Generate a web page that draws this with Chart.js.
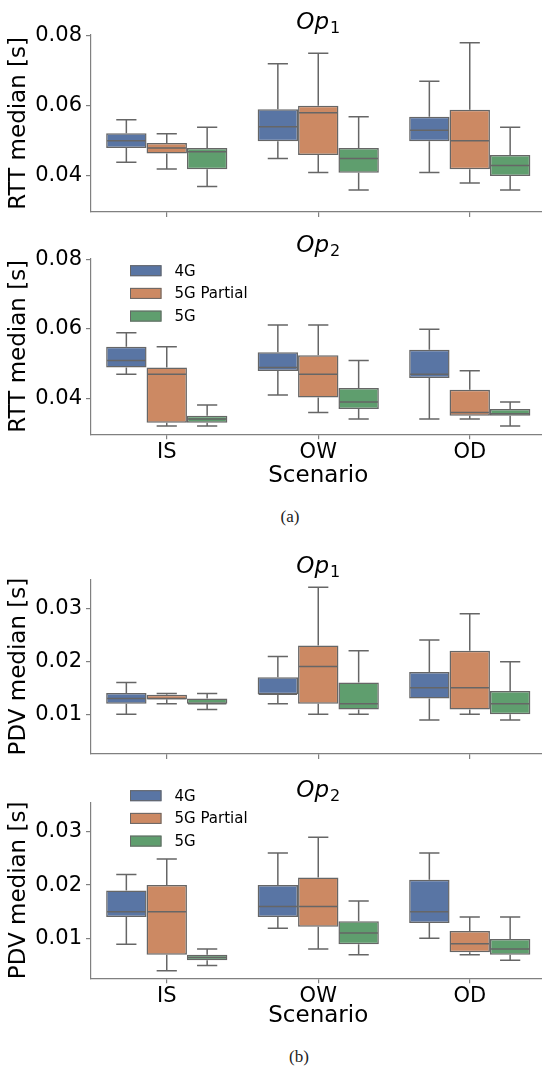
<!DOCTYPE html>
<html><head><meta charset="utf-8">
<script src="https://cdn.jsdelivr.net/npm/chart.js@4.4.1/dist/chart.umd.min.js"></script>
<style>
html,body{margin:0;padding:0;background:#fff;overflow:hidden;width:542px;height:1071px;}
canvas{position:absolute;left:0;}
.cap{position:absolute;font-family:"Liberation Serif","DejaVu Serif",serif;font-size:17px;color:#222;transform:translate(-50%,-50%);white-space:nowrap;}
</style></head><body>
<canvas id="c1" width="560" height="235" style="top:0px"></canvas>
<canvas id="c2" width="560" height="275" style="top:225px"></canvas>
<canvas id="c3" width="560" height="235" style="top:540px"></canvas>
<canvas id="c4" width="560" height="275" style="top:765px"></canvas>
<div class="cap" style="left:290px;top:517px">(a)</div>
<div class="cap" style="left:299px;top:1057px">(b)</div>
<script>
const categories = ['IS', 'OW', 'OD'];
const seriesNames = ['4G', '5G Partial', '5G'];
const seriesColors = ['#5975a4', '#cc8963', '#5f9e6e'];
const rttTicks = [0.04, 0.06, 0.08];
const pdvTicks = [0.01, 0.02, 0.03];
const opTitles = ['1', '2'];

// each entry: [lower whisker, Q1, median, Q3, upper whisker] for IS, OW, OD
const rttOp1_4G  = [[0.0439,0.0480,0.0500,0.0522,0.0560],[0.0450,0.0499,0.0540,0.0590,0.0720],[0.0410,0.0499,0.0530,0.0569,0.0670]];
const rttOp1_5GP = [[0.0420,0.0464,0.0480,0.0494,0.0520],[0.0410,0.0460,0.0580,0.0600,0.0750],[0.0380,0.0419,0.0500,0.0589,0.0780]];
const rttOp1_5G  = [[0.0370,0.0419,0.0469,0.0480,0.0539],[0.0360,0.0409,0.0450,0.0480,0.0569],[0.0360,0.0400,0.0430,0.0460,0.0539]];

const rttOp2_4G  = [[0.0470,0.0489,0.0509,0.0549,0.0589],[0.0410,0.0479,0.0489,0.0533,0.0611],[0.0341,0.0459,0.0470,0.0540,0.0599]];
const rttOp2_5GP = [[0.0321,0.0330,0.0470,0.0489,0.0549],[0.0360,0.0403,0.0470,0.0524,0.0611],[0.0341,0.0350,0.0360,0.0425,0.0480]];
const rttOp2_5G  = [[0.0321,0.0330,0.0341,0.0350,0.0381],[0.0341,0.0370,0.0390,0.0430,0.0509],[0.0321,0.0350,0.0356,0.0370,0.0390]];

const pdvOp1_4G  = [[0.0100,0.0120,0.0130,0.0140,0.0160],[0.0120,0.0138,0.0138,0.0170,0.0209],[0.0089,0.0130,0.0150,0.0180,0.0240]];
const pdvOp1_5GP = [[0.0120,0.0128,0.0130,0.0137,0.0139],[0.0100,0.0120,0.0190,0.0230,0.0340],[0.0100,0.0109,0.0150,0.0220,0.0290]];
const pdvOp1_5G  = [[0.0109,0.0120,0.0120,0.0130,0.0139],[0.0100,0.0109,0.0120,0.0160,0.0220],[0.0089,0.0100,0.0120,0.0144,0.0199]];

const pdvOp2_4G  = [[0.0089,0.0140,0.0150,0.0190,0.0220],[0.0119,0.0140,0.0160,0.0200,0.0260],[0.0100,0.0129,0.0150,0.0210,0.0260]];
const pdvOp2_5GP = [[0.0039,0.0069,0.0150,0.0200,0.0249],[0.0080,0.0122,0.0160,0.0214,0.0290],[0.0069,0.0074,0.0090,0.0114,0.0140]];
const pdvOp2_5G  = [[0.0049,0.0059,0.0064,0.0069,0.0080],[0.0069,0.0089,0.0110,0.0132,0.0170],[0.0059,0.0069,0.0080,0.0099,0.0140]];

const LINE = '#666666';
const AXC = '#808080';
const FAM = '"DejaVu Sans", sans-serif';
Chart.defaults.font.family = FAM;
Chart.defaults.color = '#000';

const boxPlugin = {
  id: 'boxWhiskers',
  afterDatasetsDraw(chart) {
    const ctx = chart.ctx, y = chart.scales.y;
    ctx.save();
    ctx.strokeStyle = LINE; ctx.lineWidth = 1.5;
    chart.data.datasets.forEach((ds, i) => {
      const meta = chart.getDatasetMeta(i);
      meta.data.forEach((bar, j) => {
        const s = ds.stats[j];
        const x = bar.x, w = bar.width;
        const pl = y.getPixelForValue(s[0]), p1 = y.getPixelForValue(s[1]);
        const pm = y.getPixelForValue(s[2]), p3 = y.getPixelForValue(s[3]);
        const ph = y.getPixelForValue(s[4]);
        ctx.beginPath();
        ctx.moveTo(x, p1); ctx.lineTo(x, pl);
        ctx.moveTo(x - w / 4, pl); ctx.lineTo(x + w / 4, pl);
        ctx.moveTo(x, p3); ctx.lineTo(x, ph);
        ctx.moveTo(x - w / 4, ph); ctx.lineTo(x + w / 4, ph);
        ctx.moveTo(x - w / 2 + 1, pm); ctx.lineTo(x + w / 2 - 1, pm);
        ctx.stroke();
      });
    });
    ctx.restore();
  }
};

const titlePlugin = {
  id: 'panelTitle',
  afterDraw(chart, args, opts) {
    const ctx = chart.ctx, a = chart.chartArea;
    ctx.save();
    ctx.fillStyle = '#000';
    const f1 = 'italic 23px ' + FAM, f2 = '16px ' + FAM;
    ctx.font = f1; const w1 = ctx.measureText(opts.main).width;
    ctx.font = f2; const w2 = ctx.measureText(opts.sub).width;
    const x0 = (a.left + a.right) / 2 - (w1 + w2 + 1) / 2, yb = a.top - 6;
    ctx.textBaseline = 'alphabetic'; ctx.textAlign = 'left';
    ctx.font = f1; ctx.fillText(opts.main, x0, yb);
    ctx.font = f2; ctx.fillText(opts.sub, x0 + w1 + 1, yb + 4);
    ctx.restore();
  }
};

const legendPlugin = {
  id: 'boxLegend',
  afterDraw(chart, args, opts) {
    if (!opts.show) return;
    const ctx = chart.ctx;
    ctx.save();
    chart.data.datasets.forEach((ds, i) => {
      const cy = opts.y + i * opts.gap;
      ctx.fillStyle = ds.backgroundColor;
      ctx.fillRect(opts.x, cy - 5.5, 31.5, 11);
      ctx.strokeStyle = LINE; ctx.lineWidth = 1;
      ctx.strokeRect(opts.x + 0.5, cy - 5, 30.5, 10);
      ctx.fillStyle = '#000';
      ctx.font = '15px ' + FAM;
      ctx.textBaseline = 'middle'; ctx.textAlign = 'left';
      ctx.fillText(ds.label, opts.x + 44.5, cy + 1);
    });
    ctx.restore();
  }
};

function makePanel(id, seriesStats, ticks, yMin, yMax, yLabel, showX, sub, padTop, xH, legend) {
  const datasets = seriesStats.map((stats, i) => ({
    label: seriesNames[i],
    data: stats.map(s => [s[1], s[3]]),
    stats: stats,
    backgroundColor: seriesColors[i],
    borderColor: LINE,
    borderWidth: 1.5,
    borderSkipped: false
  }));
  return new Chart(document.getElementById(id), {
    type: 'bar',
    data: { labels: categories, datasets },
    plugins: [boxPlugin, titlePlugin, legendPlugin],
    options: {
      responsive: false, animation: false, events: [],
      layout: { padding: { left: 0, right: 14.5, top: padTop, bottom: 0 } },
      datasets: { bar: { categoryPercentage: 0.8, barPercentage: 1 } },
      plugins: {
        legend: { display: false }, tooltip: { enabled: false },
        panelTitle: { main: 'Op', sub: sub },
        boxLegend: legend
      },
      scales: {
        x: {
          offset: true,
          grid: { display: true, drawOnChartArea: false, offset: false, tickLength: 5, color: AXC, lineWidth: 1.2 },
          border: { display: true, color: AXC, width: 1.2 },
          ticks: { display: showX, font: { size: 21 }, color: '#000', padding: 1 },
          title: { display: showX, text: 'Scenario', font: { size: 23 }, color: '#000', padding: { top: 0, bottom: 10 } },
          afterFit(s) { s.height = xH; }
        },
        y: {
          min: yMin, max: yMax,
          afterBuildTicks(s) { s.ticks = ticks.map(v => ({ value: v })); },
          ticks: { callback: v => Number(v).toFixed(2), font: { size: 21 }, color: '#000', padding: 4 },
          grid: { display: true, drawOnChartArea: false, tickLength: 5, color: AXC, lineWidth: 1.2 },
          border: { display: true, color: AXC, width: 1.2 },
          title: { display: true, text: yLabel, font: { size: 23 }, color: '#000', padding: { top: 5, bottom: 0 } },
          afterFit(s) { s.width = 91; }
        }
      }
    }
  });
}

makePanel('c1', [rttOp1_4G, rttOp1_5GP, rttOp1_5G], rttTicks, 0.0297, 0.0803, 'RTT median [s]', false, opTitles[0], 34.7, 23, { show: false });
makePanel('c2', [rttOp2_4G, rttOp2_5GP, rttOp2_5G], rttTicks, 0.0297, 0.0803, 'RTT median [s]', true, opTitles[1], 33.3, 65.7, { show: true, x: 130, y: 45.7, gap: 22.7 });
makePanel('c3', [pdvOp1_4G, pdvOp1_5GP, pdvOp1_5G], pdvTicks, 0.0025, 0.0355, 'PDV median [s]', false, opTitles[0], 39.2, 21, { show: false });
makePanel('c4', [pdvOp2_4G, pdvOp2_5GP, pdvOp2_5G], pdvTicks, 0.0025, 0.0355, 'PDV median [s]', true, opTitles[1], 37.5, 61.7, { show: true, x: 130, y: 30.7, gap: 22.7 });
</script>
</body></html>
